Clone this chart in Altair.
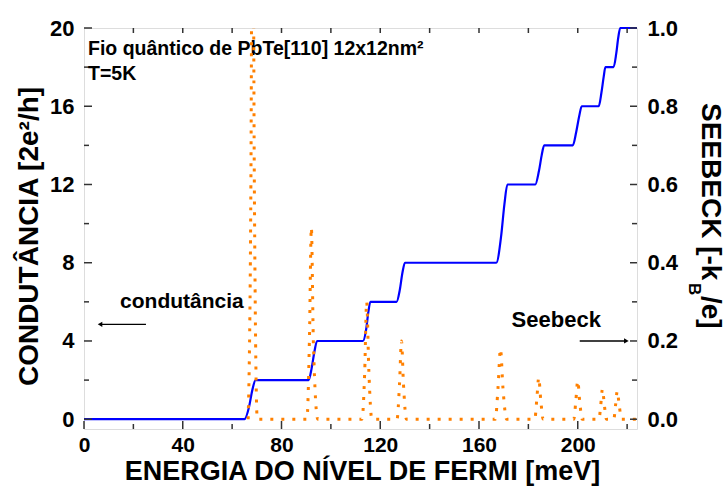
import altair as alt
import pandas as pd

# ---------------- data ----------------
energy = [0, 65, 66.8, 68.2, 69.5, 91, 92.2, 93.4, 94.4, 113, 114.3, 115.2, 116,
          126.6, 127.9, 129, 130, 167, 169, 170.3, 171.5, 182.8, 184.3, 185.4, 186.4,
          198, 199.4, 200.6, 201.6, 208.5, 209.6, 210.5, 211.2, 214.5, 215.6, 216.4,
          217.2, 224]
conductance = [0, 0, 0.6, 1.5, 2, 2, 2.6, 3.5, 4, 4, 4.6, 5.5, 6,
               6, 6.6, 7.5, 8, 8, 9.4, 11, 12, 12, 12.7, 13.5, 14,
               14, 14.7, 15.5, 16, 16, 16.7, 17.5, 18, 18, 18.7, 19.5,
               20, 20]

seebeck_energy = [66.5, 67.6, 68.3, 69.0, 70.2,
                  90.3, 91.3, 92.1, 92.9, 94.7,
                  112.6, 113.7, 114.5, 115.4, 116.6,
                  126.8, 127.8, 128.6, 129.4, 130.6,
                  166.6, 167.7, 168.7, 169.7, 171.2,
                  182.6, 183.4, 184.2, 185.0, 186.0,
                  198.4, 199.2, 200.0, 200.8, 201.8,
                  208.6, 209.3, 210.0, 210.8, 211.6,
                  214.6, 215.3, 216.0, 216.8, 217.8,
                  224]
seebeck = [0, 0.6, 1.6, 0.6, 0,
           0, 0.2, 0.49, 0.2, 0,
           0, 0.12, 0.30, 0.12, 0,
           0, 0.09, 0.20, 0.09, 0,
           0, 0.08, 0.18, 0.08, 0,
           0, 0.05, 0.106, 0.05, 0,
           0, 0.045, 0.098, 0.045, 0,
           0, 0.035, 0.077, 0.035, 0,
           0, 0.035, 0.072, 0.035, 0,
           0]

x_labels = [0, 40, 80, 120, 160, 200]
x_minor = [20, 60, 100, 140, 180, 220]
x_top = [20, 40, 60, 80, 100, 120, 140, 160, 180, 200, 220]
g_labels = [0, 4, 8, 12, 16, 20]
g_minor = [2, 6, 10, 14, 18]
s_labels = [0.0, 0.2, 0.4, 0.6, 0.8, 1.0]
s_minor = [0.1, 0.3, 0.5, 0.7, 0.9]

x_title = "ENERGIA DO NÍVEL DE FERMI [meV]"
left_title = "CONDUTÂNCIA [2e²/h]"
right_title_parts = ["SEEBECK [-k", "B", "/e]"]
info_lines = ["Fio quântico de PbTe[110] 12x12nm²", "T=5K"]

cond_label = {"E": [14.6], "G": [5.69], "t": ["condutância"]}
cond_arrow = {"E": [25.1], "E2": [6.5], "G": [4.85]}
seeb_label = {"E": [173.2], "S": [0.236], "t": ["Seebeck"]}
seeb_arrow = {"E": [200.8], "E2": [219.7], "S": [0.2]}

# ---------------- chart ----------------
W, H = 553, 401
FONT = "Liberation Sans"
FRAME = "#333333"

xs = alt.Scale(domain=[0, 224], nice=False, zero=False)
ygs = alt.Scale(domain=[-0.5, 20], nice=False, zero=False)
yss = alt.Scale(domain=[-0.025, 1.0], nice=False, zero=False)

x_axis = alt.Axis(values=x_labels, format="d", labelFont=FONT, labelFontSize=21,
                  labelFontWeight="bold", labelColor="black", labelFlush=False,
                  labelPadding=5, tickSize=0, domain=False, grid=False,
                  title=x_title, titleFont=FONT, titleFontSize=27, titleFontWeight="bold",
                  titleColor="black", titleX=278, titleY=50, titleBaseline="alphabetic",
                  titleAlign="center")
left_axis = alt.Axis(orient="left", values=g_labels, format="d", labelFont=FONT,
                     labelFontSize=22, labelFontWeight="bold", labelColor="black",
                     labelFlush=False, labelPadding=10, tickSize=0, domain=False,
                     grid=False, title=left_title, titleFont=FONT, titleFontSize=28,
                     titleFontWeight="bold", titleColor="black", titleX=-47, titleY=208,
                     titleAngle=270, titleAlign="center", titleBaseline="alphabetic")
right_axis = alt.Axis(orient="right", values=s_labels, format=".1f", labelFont=FONT,
                      labelFontSize=22, labelFontWeight="bold", labelColor="black",
                      labelFlush=False, labelPadding=10, tickSize=0, domain=False,
                      grid=False, title=None)


def X(field):
    return alt.X(f"{field}:Q", scale=xs, axis=x_axis)


def YG(field="G"):
    return alt.Y(f"{field}:Q", scale=ygs, axis=left_axis)


def YS(field="S"):
    return alt.Y(f"{field}:Q", scale=yss, axis=right_axis)


df_g = pd.DataFrame({"E": energy, "G": conductance})
df_s = pd.DataFrame({"E": seebeck_energy, "S": seebeck})

blue = alt.Chart(df_g).mark_line(color="#0000FF", strokeWidth=2.2,
                                 interpolate="monotone").encode(x=X("E"), y=YG())


def xticks(vals, y0, y1):
    return alt.Chart(pd.DataFrame({"E": vals})).mark_rule(
        color=FRAME, strokeWidth=1.5).encode(x=X("E"), y=alt.value(y0), y2=alt.value(y1))


def yticks_g(vals, x0, x1):
    return alt.Chart(pd.DataFrame({"G": vals})).mark_rule(
        color=FRAME, strokeWidth=1.5).encode(y=YG(), x=alt.value(x0), x2=alt.value(x1))


def yticks_s(vals, x0, x1):
    return alt.Chart(pd.DataFrame({"S": vals})).mark_rule(
        color=FRAME, strokeWidth=1.5).encode(y=YS(), x=alt.value(x0), x2=alt.value(x1))


def free_text(txt, x, y, size, angle=0, align="left"):
    return alt.Chart(pd.DataFrame({"t": [txt]})).mark_text(
        font=FONT, fontSize=size, fontWeight="bold", color="black", align=align,
        baseline="alphabetic", angle=angle).encode(
        text="t:N", x=alt.value(x), y=alt.value(y))


cond_text = alt.Chart(pd.DataFrame(cond_label)).mark_text(
    font=FONT, fontSize=21, fontWeight="bold", color="black", align="left",
    baseline="alphabetic").encode(x=X("E"), y=YG(), text="t:N")
cond_line = alt.Chart(pd.DataFrame(cond_arrow)).mark_rule(
    color="black", strokeWidth=1.3).encode(x=X("E"), x2="E2:Q", y=YG())
cond_head = alt.Chart(pd.DataFrame(cond_arrow)).mark_point(
    shape="triangle-left", filled=True, color="black", size=28, opacity=1).encode(
    x=X("E2"), y=YG())

left = alt.layer(
    blue,
    yticks_g(g_labels, 0, 8),
    yticks_g(g_minor, 0, 5),
    xticks(x_labels, H, H - 8),
    xticks(x_minor, H, H - 5),
    xticks(x_top, 0, 5),
    cond_text, cond_line, cond_head,
    free_text(info_lines[0], 4, 27, 19.5),
    free_text(info_lines[1], 4, 52, 19.5),
    free_text(right_title_parts[0], 618, 75, 28, angle=90),
    free_text(right_title_parts[1], 605, 255, 17, angle=90),
    free_text(right_title_parts[2], 618, 268, 28, angle=90),
)

orange = alt.Chart(df_s).mark_line(color="#FF8000", strokeWidth=3, strokeDash=[3, 8],
                                   interpolate="monotone", clip=True).encode(
    x=X("E"), y=YS())

seeb_text = alt.Chart(pd.DataFrame(seeb_label)).mark_text(
    font=FONT, fontSize=22, fontWeight="bold", color="black", align="left",
    baseline="alphabetic").encode(x=X("E"), y=YS(), text="t:N")
seeb_line = alt.Chart(pd.DataFrame(seeb_arrow)).mark_rule(
    color="black", strokeWidth=1.3).encode(x=X("E"), x2="E2:Q", y=YS())
seeb_head = alt.Chart(pd.DataFrame(seeb_arrow)).mark_point(
    shape="triangle-right", filled=True, color="black", size=28, opacity=1).encode(
    x=X("E2"), y=YS())

right = alt.layer(
    orange,
    yticks_s(s_labels, W, W - 7),
    yticks_s(s_minor, W, W - 5),
    seeb_text, seeb_line, seeb_head,
)

chart = alt.layer(left, right).resolve_scale(y="independent").properties(
    width=W, height=H,
    autosize=alt.AutoSizeParams(type="none"),
    padding={"left": 84, "top": 28, "right": 91, "bottom": 57},
    background="white",
).configure_view(stroke=FRAME, strokeWidth=1.5).configure(font=FONT)

chart.save("out.html", embed_options={"renderer": "svg", "actions": False})
